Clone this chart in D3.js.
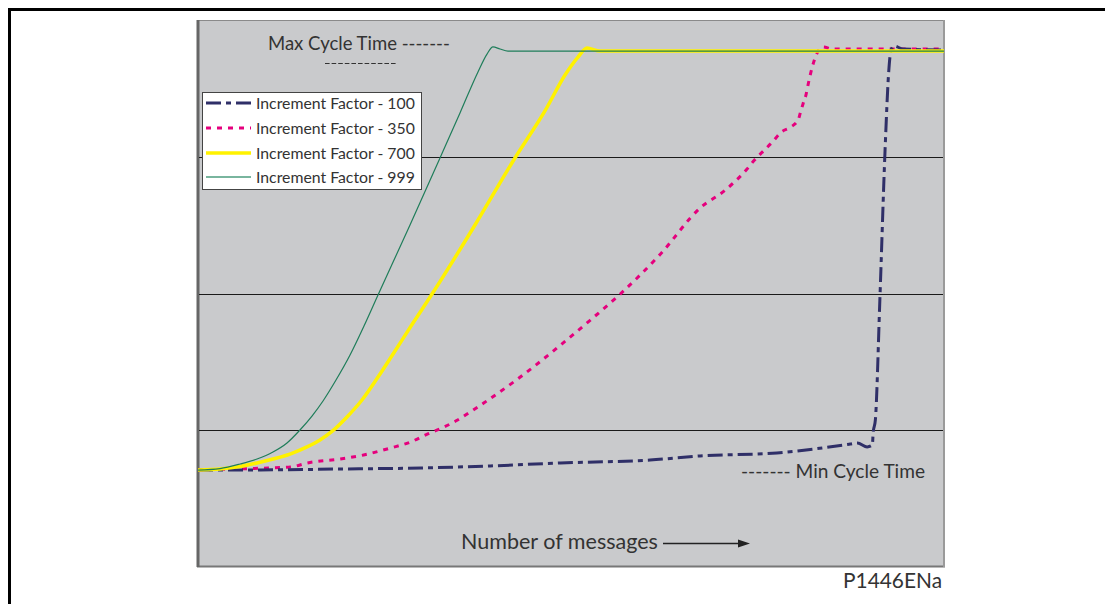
<!DOCTYPE html>
<html>
<head>
<meta charset="utf-8">
<script src="https://cdn.jsdelivr.net/npm/d3@7"></script>
<style>
  html, body { margin: 0; padding: 0; background: #fff; }
  svg { display: block; }
  text { font-family: Lato, "Noto Sans", sans-serif; fill: #333; }
</style>
</head>
<body>
<script>
// Cycle time versus number of messages, for four increment factors.
// x: messages (0..1000), y: cycle time (0..400)
const seriesNames = ["Increment Factor - 100", "Increment Factor - 350", "Increment Factor - 700", "Increment Factor - 999"];

const factor100 = [[0,71],[84,71],[195,71.7],[299,72.4],[392,73.9],[486,76.1],[606,78.2],[673,81.2],[776,83.4],[874,89.9],[884,90.7],[897,87.8],[904,89.2],[905,98],[908,107.5],[914,195],[921,305],[926,363],[929,378],[933,381],[945,378.8],[1000,378]];

const factor350 = [[0,71],[94,72.4],[124,73.1],[147,76.1],[191,79],[222,81.9],[258,87],[285,91.4],[308,97.3],[321,100.2],[348,107.5],[369,114.8],[383,119.9],[432,138.9],[486,162.3],[526,180.6],[566,199.6],[620,228.9],[673,262.5],[707,275.7],[736,291],[746,297.6],[758,304.2],[770,310.8],[782,318.1],[795,321.8],[805,327.6],[807,331.3],[811,338.6],[815,345.2],[818,353.2],[825,368.6],[830,375.9],[838,380.3],[850,378.8],[1000,378.8]];

const factor700 = [[0,70.9],[29.5,71.7],[56.3,73.5],[79.1,76.1],[100.5,79],[123.3,82.6],[146.1,87.8],[163.5,92.9],[180.4,99.5],[199.7,109.7],[219.8,122.1],[241.3,138.9],[264.1,158],[288.2,178.4],[313.7,199.6],[371.3,250.1],[424.9,299.1],[465.1,333.5],[492,359.8],[509.4,372.9],[521.4,379.5],[538.9,377.3],[1000,377.3]];

const factor999 = [[0,70.9],[29.5,72],[56.3,75.3],[79.1,79],[100.5,84.1],[119.3,90.7],[136.7,100.2],[152.8,110.4],[167.6,121.4],[185,136.7],[203.8,155],[222.5,176.2],[241.3,198.9],[284.2,250.1],[324.4,299.1],[351.2,332],[375.3,362],[387.4,375.1],[395.4,380.3],[404.8,378.8],[415.5,377.3],[1000,377.3]];

const gridValues = [100, 200, 300];

const W = 1105, H = 604;
const svg = d3.select("body").append("svg").attr("width", W).attr("height", H);

// outer frame: top and left rules
svg.append("rect").attr("x", 8).attr("y", 8).attr("width", W - 8).attr("height", 3).attr("fill", "#000");
svg.append("rect").attr("x", 8).attr("y", 8).attr("width", 3).attr("height", H - 8).attr("fill", "#000");

const plot = { left: 197, top: 20, right: 945, bottom: 567 };

const x = d3.scaleLinear().domain([0, 1000]).range([plot.left + 1, plot.right - 1]);
const y = d3.scaleLinear().domain([0, 400]).range([plot.bottom, plot.top]);

// plot area
svg.append("rect")
  .attr("x", plot.left).attr("y", plot.top)
  .attr("width", plot.right - plot.left).attr("height", plot.bottom - plot.top)
  .attr("fill", "#c9cacc");
// plot borders
svg.append("line").attr("x1", plot.left).attr("x2", plot.right).attr("y1", plot.top + 0.5).attr("y2", plot.top + 0.5)
  .attr("stroke", "#8a8a8a").attr("stroke-width", 1);
svg.append("line").attr("x1", plot.left).attr("x2", plot.right).attr("y1", plot.bottom - 0.5).attr("y2", plot.bottom - 0.5)
  .attr("stroke", "#777").attr("stroke-width", 2);
svg.append("line").attr("x1", plot.left + 1).attr("x2", plot.left + 1).attr("y1", plot.top).attr("y2", plot.bottom)
  .attr("stroke", "#666").attr("stroke-width", 3);
svg.append("line").attr("x1", plot.right - 1).attr("x2", plot.right - 1).attr("y1", plot.top).attr("y2", plot.bottom)
  .attr("stroke", "#9a9a9a").attr("stroke-width", 2);

// horizontal gridlines
svg.append("g").selectAll("line").data(gridValues).join("line")
  .attr("x1", plot.left + 2).attr("x2", plot.right - 2)
  .attr("y1", d => Math.round(y(d)) + 0.5).attr("y2", d => Math.round(y(d)) + 0.5)
  .attr("stroke", "#1a1a1a").attr("stroke-width", 1);

const styles = [
  { data: factor100, color: "#2f2f68", width: 3, dash: "15,5,5,5" },
  { data: factor350, color: "#e5007d", width: 3, dash: "5,6" },
  { data: factor700, color: "#fff200", width: 3.5, dash: null },
  { data: factor999, color: "#1f7d5a", width: 1.2, dash: null }
];

const line = d3.line().x(d => x(d[0])).y(d => y(d[1])).curve(d3.curveMonotoneX);

// draw order: slower curves first, so the flat top shows green over yellow
const drawOrder = [1, 0, 2, 3];
drawOrder.forEach(i => {
  const s = styles[i];
  svg.append("path")
    .datum(s.data)
    .attr("d", line)
    .attr("fill", "none")
    .attr("stroke", s.color)
    .attr("stroke-width", s.width)
    .attr("stroke-dasharray", s.dash)
    .attr("stroke-linejoin", "round");
});

// fit a text element's font size to a target width
function fitText(sel, width) {
  const node = sel.node();
  const fs = parseFloat(sel.attr("font-size"));
  const len = node.getComputedTextLength();
  if (len > 0) sel.attr("font-size", (fs * width / len).toFixed(2));
  return sel;
}

// legend
const lg = svg.append("g");
lg.append("rect").attr("x", 202.5).attr("y", 92.5).attr("width", 219).attr("height", 97)
  .attr("fill", "#fff").attr("stroke", "#444").attr("stroke-width", 1);
const rowY = [103, 128, 153, 177];
styles.forEach((s, i) => {
  lg.append("line").attr("x1", 206).attr("x2", 251).attr("y1", rowY[i]).attr("y2", rowY[i])
    .attr("stroke", s.color === "#1f7d5a" ? "#4c9d7e" : s.color)
    .attr("stroke-width", s.color === "#1f7d5a" ? 1.5 : s.width)
    .attr("stroke-dasharray", s.dash);
  const t = lg.append("text").attr("x", 256).attr("y", rowY[i]).attr("dy", "0.36em")
    .attr("font-size", 15).text(seriesNames[i]);
  fitText(t, 159);
});

// annotations
fitText(svg.append("text").attr("x", 268).attr("y", 50).attr("font-size", 17).text("Max Cycle Time -------"), 182);
// second row of dashes: drawn as a dashed rule under the label
svg.append("line").attr("x1", 325).attr("x2", 397).attr("y1", 63.5).attr("y2", 63.5)
  .attr("stroke", "#333").attr("stroke-width", 1.2).attr("stroke-dasharray", "4.6,2");
fitText(svg.append("text").attr("x", 741).attr("y", 478).attr("font-size", 17).text("------- Min Cycle Time"), 184);

// x-axis caption with arrow
fitText(svg.append("text").attr("x", 461).attr("y", 549).attr("font-size", 19).text("Number of messages"), 197);
svg.append("line").attr("x1", 663).attr("x2", 740).attr("y1", 543.5).attr("y2", 543.5)
  .attr("stroke", "#222").attr("stroke-width", 1.3);
svg.append("path").attr("d", "M738,539.5 L750,543.5 L738,547.5 Z").attr("fill", "#222");

// figure reference
const ref = svg.append("text").attr("x", 942).attr("y", 588).attr("font-size", 17)
  .attr("text-anchor", "end").text("P1446ENa");
fitText(ref, 99);
</script>
</body>
</html>
